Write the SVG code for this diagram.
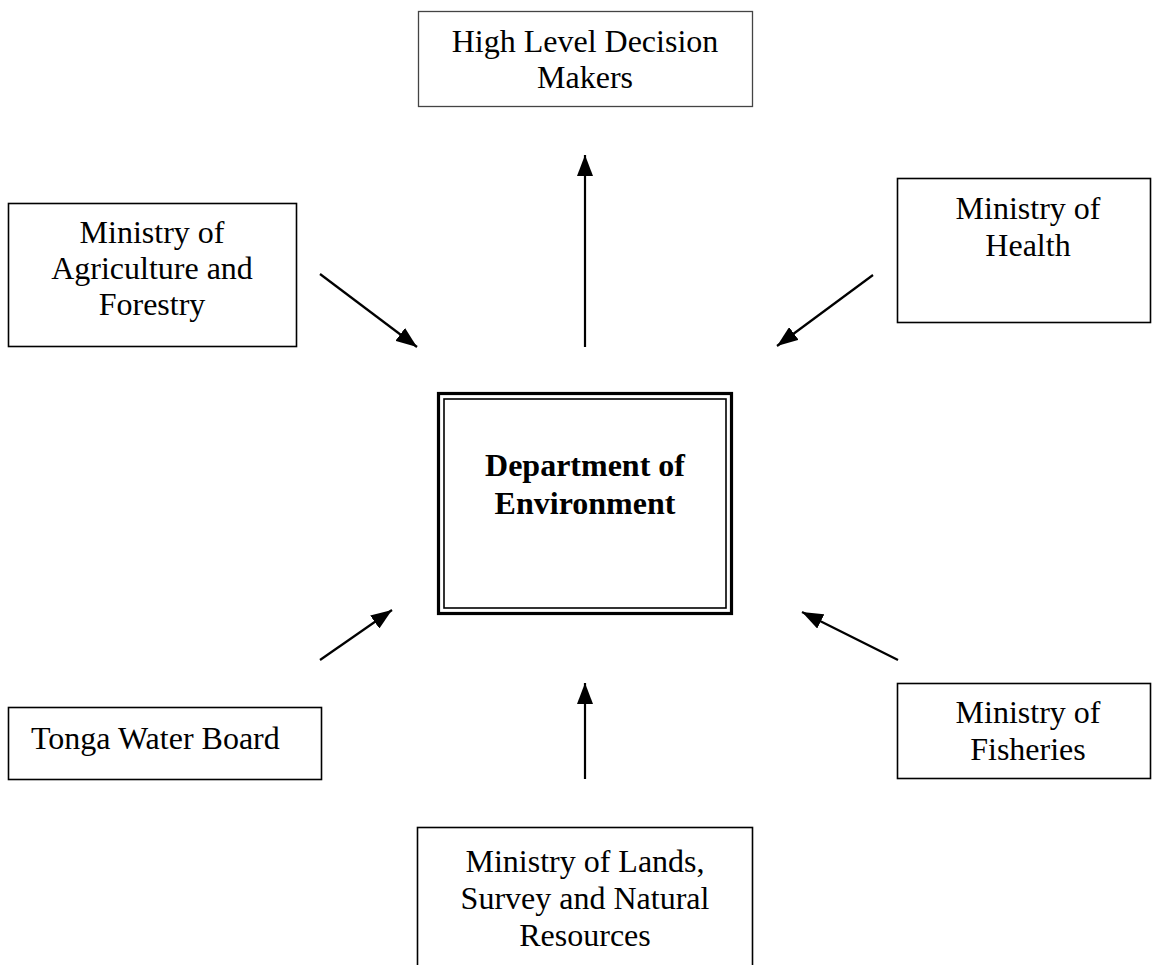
<svg xmlns="http://www.w3.org/2000/svg" width="1152" height="965" viewBox="0 0 1152 965">
<style>
.box{fill:#fff;stroke:#000;stroke-width:1.6}
.t{font-family:"Liberation Serif","Times New Roman",serif;font-size:32px;fill:#000;text-anchor:middle}
.b{font-weight:bold}
.c{stroke:#000;stroke-width:2.2;fill:none;marker-end:url(#ah)}
</style>
<defs>
<marker id="ah" markerUnits="userSpaceOnUse" markerWidth="22" markerHeight="16" refX="21" refY="8" orient="auto">
<path d="M0,0 L21,8 L0,16 z" fill="#000"/>
</marker>
</defs>
<rect x="0" y="0" width="1152" height="965" fill="#fff"/>
<g id="connectors">
<line class="c" x1="585" y1="347" x2="585" y2="155"/>
<line class="c" x1="320" y1="274" x2="417" y2="347"/>
<line class="c" x1="873" y1="275" x2="777" y2="346"/>
<line class="c" x1="320" y1="660" x2="392" y2="610"/>
<line class="c" x1="898" y1="660" x2="802" y2="612"/>
<line class="c" x1="585" y1="779" x2="585" y2="683"/>
</g>
<g id="high-level">
<rect x="418.5" y="11.5" width="334" height="95" fill="#fff" stroke="#444" stroke-width="1.3"/>
<text class="t" x="585" y="52">High Level Decision</text>
<text class="t" x="585" y="88">Makers</text>
</g>
<g id="agriculture">
<rect class="box" x="8.5" y="203.5" width="288" height="143"/>
<text class="t" x="152" y="243">Ministry of</text>
<text class="t" x="152" y="279">Agriculture and</text>
<text class="t" x="152" y="315">Forestry</text>
</g>
<g id="health">
<rect class="box" x="897.5" y="178.5" width="253" height="144"/>
<text class="t" x="1028" y="219">Ministry of</text>
<text class="t" x="1028" y="256">Health</text>
</g>
<g id="environment">
<rect x="438.5" y="393.5" width="293" height="220" fill="#fff" stroke="#000" stroke-width="3.2"/>
<rect x="444" y="399" width="282" height="209" fill="none" stroke="#000" stroke-width="1.6"/>
<text class="t b" x="585" y="476">Department of</text>
<text class="t b" x="585" y="514">Environment</text>
</g>
<g id="tonga-water">
<rect class="box" x="8.5" y="707.5" width="313" height="72"/>
<text class="t" x="31" y="749" style="text-anchor:start">Tonga Water Board</text>
</g>
<g id="fisheries">
<rect class="box" x="897.5" y="683.5" width="253" height="95"/>
<text class="t" x="1028" y="723">Ministry of</text>
<text class="t" x="1028" y="760">Fisheries</text>
</g>
<g id="lands">
<rect class="box" x="417.5" y="827.5" width="335" height="145"/>
<text class="t" x="585" y="872">Ministry of Lands,</text>
<text class="t" x="585" y="909">Survey and Natural</text>
<text class="t" x="585" y="946">Resources</text>
</g>
</svg>
